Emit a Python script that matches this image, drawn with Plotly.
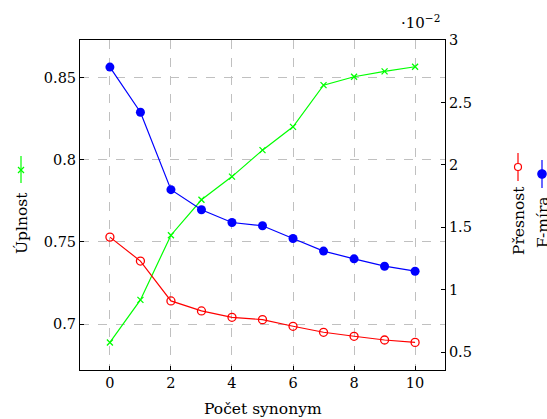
import plotly.graph_objects as go

# Data
pocet = [0, 1, 2, 3, 4, 5, 6, 7, 8, 9, 10]
uplnost = [0.6888, 0.7147, 0.7541, 0.7757, 0.7898, 0.8059, 0.8201, 0.8455, 0.8506, 0.8539, 0.8567]
presnost = [1.422, 1.230, 0.911, 0.831, 0.780, 0.761, 0.708, 0.660, 0.628, 0.598, 0.579]
fmira = [2.783, 2.422, 1.802, 1.641, 1.539, 1.513, 1.411, 1.310, 1.248, 1.189, 1.149]

x_ticks = [0, 2, 4, 6, 8, 10]
left_ticks = [0.7, 0.75, 0.8, 0.85]
left_ticktext = ["0.7", "0.75", "0.8", "0.85"]
right_ticks = [0.5, 1, 1.5, 2, 2.5, 3]
right_ticktext = ["0.5", "1", "1.5", "2", "2.5", "3"]

W, H = 547, 419
L, R, T, B = 80, 445, 40, 370  # plot area in window pixels
FONT = "DejaVu Serif"

GREEN = "#00ff00"
RED = "#ff0000"
BLUE = "#0000ff"


def px(x):
    return (x - L) / (R - L)


def py(y):
    return (B - y) / (B - T)


fig = go.Figure()
fig.add_trace(go.Scatter(
    x=pocet, y=uplnost, mode="lines+markers", name="Úplnost",
    line=dict(color=GREEN, width=1.2),
    marker=dict(symbol="x-thin-open", size=6, line=dict(color=GREEN, width=1.3)),
    yaxis="y"))
fig.add_trace(go.Scatter(
    x=pocet, y=presnost, mode="lines+markers", name="Přesnost",
    line=dict(color=RED, width=1.2),
    marker=dict(symbol="circle-open", size=8, line=dict(color=RED, width=1.3)),
    yaxis="y2"))
fig.add_trace(go.Scatter(
    x=pocet, y=fmira, mode="lines+markers", name="F-míra",
    line=dict(color=BLUE, width=1.2),
    marker=dict(symbol="circle", size=9, color=BLUE),
    yaxis="y2"))

axis_common = dict(
    showline=True, linecolor="black", linewidth=1,
    ticks="inside", ticklen=4, tickcolor="black",
    tickfont=dict(family=FONT, size=14.5, color="black"),
    zeroline=False,
)

fig.update_layout(
    width=W, height=H,
    margin=dict(l=L, r=W - R, t=T, b=H - B),
    paper_bgcolor="white", plot_bgcolor="white",
    showlegend=False,
    font=dict(family=FONT, size=15, color="black"),
    xaxis=dict(range=[-0.98, 10.98], tickvals=x_ticks, mirror=True,
               showgrid=True, gridcolor="#c0c0c0", griddash="dash", gridwidth=1,
               **axis_common),
    yaxis=dict(range=[0.672, 0.873], tickvals=left_ticks, ticktext=left_ticktext,
               showgrid=True, gridcolor="#c0c0c0", griddash="dash", gridwidth=1,
               **axis_common),
    yaxis2=dict(range=[0.358, 3.0], tickvals=right_ticks, ticktext=right_ticktext,
                overlaying="y", side="right", showgrid=False,
                **axis_common),
)

# Axis title and exponent label
fig.add_annotation(text="Počet synonym", x=px(262.5), y=py(409), xref="paper", yref="paper",
                   showarrow=False, font=dict(family=FONT, size=15.5), xanchor="center", yanchor="middle")
fig.add_annotation(text="·10<sup>−2</sup>", x=px(420), y=py(22), xref="paper", yref="paper",
                   showarrow=False, font=dict(family=FONT, size=15), xanchor="center", yanchor="middle")

# Rotated legend entries
legend_entries = [
    ("Úplnost", GREEN, "x", 21, 156, 183, 170, 223),
    ("Přesnost", RED, "circle-open", 518, 153, 181, 167, 221),
    ("F-míra", BLUE, "circle", 542, 160, 188, 174, 222),
]
for name, col, sym, lx, y0, y1, ym, ty in legend_entries:
    fig.add_shape(type="line", xref="paper", yref="paper",
                  x0=px(lx), x1=px(lx), y0=py(y0), y1=py(y1),
                  line=dict(color=col, width=1.2))
    if sym == "x":
        for d in (1, -1):
            fig.add_shape(type="line", xref="paper", yref="paper",
                          x0=px(lx - 3), x1=px(lx + 3), y0=py(ym - 3 * d), y1=py(ym + 3 * d),
                          line=dict(color=col, width=1.2))
    else:
        r = 3.5 if sym == "circle-open" else 4.2
        fig.add_shape(type="circle", xref="paper", yref="paper",
                      x0=px(lx - r), x1=px(lx + r), y0=py(ym - r), y1=py(ym + r),
                      line=dict(color=col, width=1.2),
                      fillcolor="white" if sym == "circle-open" else col)
    fig.add_annotation(text=name, x=px(lx + 1), y=py(ty), xref="paper", yref="paper",
                       showarrow=False, textangle=-90, font=dict(family=FONT, size=15.5),
                       xanchor="center", yanchor="middle")

fig.write_html(
    "out.html",
    config={"displayModeBar": False},
    post_script="document.body.style.margin='0';document.body.style.overflow='hidden';",
)
